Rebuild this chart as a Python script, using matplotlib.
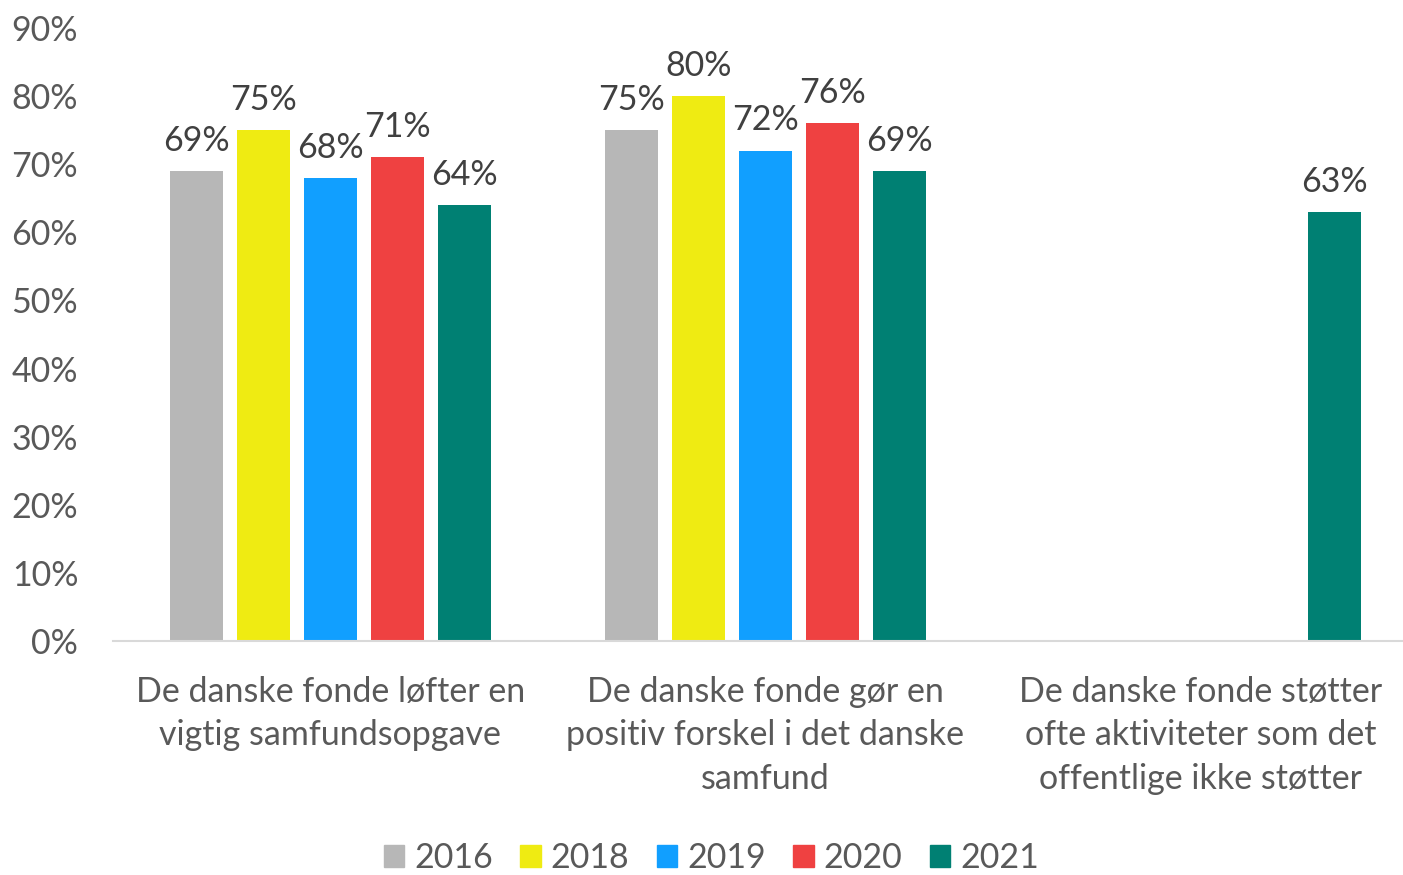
import matplotlib
matplotlib.use('Agg')
from matplotlib import pyplot as plt
import numpy as np

plt.rcParams['font.family'] = ['Lato', 'DejaVu Sans']

categories = ['De danske fonde løfter en\nvigtig samfundsopgave',
              'De danske fonde gør en\npositiv forskel i det danske\nsamfund',
              'De danske fonde støtter\nofte aktiviteter som det\noffentlige ikke støtter']
years = ['2016', '2018', '2019', '2020', '2021']
values_2016 = [69, 75, None]
values_2018 = [75, 80, None]
values_2019 = [68, 72, None]
values_2020 = [71, 76, None]
values_2021 = [64, 69, 63]
series = [values_2016, values_2018, values_2019, values_2020, values_2021]
colors = ['#B7B7B7', '#EFEB12', '#119FFF', '#EF4141', '#008073']

fig = plt.figure(figsize=(14.03, 8.75), dpi=100)
ax = fig.add_axes([0.0805, 0.2674, 0.9195, 0.7006])

x = np.arange(len(categories))
step = 0.154
width = 0.122
for i, (name, vals, col) in enumerate(zip(years, series, colors)):
    pos = x + (i - 2) * step
    for p, v in zip(pos, vals):
        if v is None:
            continue
        ax.bar(p, v, width, color=col)
        ax.text(p, v + 2.1, '{0}%'.format(v), ha='center', va='bottom',
                fontsize=24.5, color='#404040')

# legend handles, one per year
handles = [plt.Rectangle((0, 0), 1, 1, color=c) for c in colors]
fig.legend(handles, years, loc='lower center', ncol=5, frameon=False,
           fontsize=24.5, labelcolor='#595959', handlelength=0.6, handleheight=0.6,
           columnspacing=0.8, handletextpad=0.3, bbox_to_anchor=(0.507, -0.034))

ax.set_ylim(0, 90)
ax.set_xlim(-0.5, 2.466)
ax.set_yticks(np.arange(0, 91, 10))
ax.set_yticklabels(['{0}%'.format(t) for t in range(0, 91, 10)])
ax.set_xticks(x)
ax.set_xticklabels(categories, linespacing=1.45)
ax.tick_params(axis='y', length=0, labelsize=24.5, labelcolor='#595959', pad=25)
ax.tick_params(axis='x', length=0, labelsize=24.5, labelcolor='#595959', pad=25)
for s in ['top', 'right', 'left']:
    ax.spines[s].set_visible(False)
ax.spines['bottom'].set_color('#D9D9D9')
ax.spines['bottom'].set_linewidth(1.5)

fig.savefig('out.png', dpi=100)
